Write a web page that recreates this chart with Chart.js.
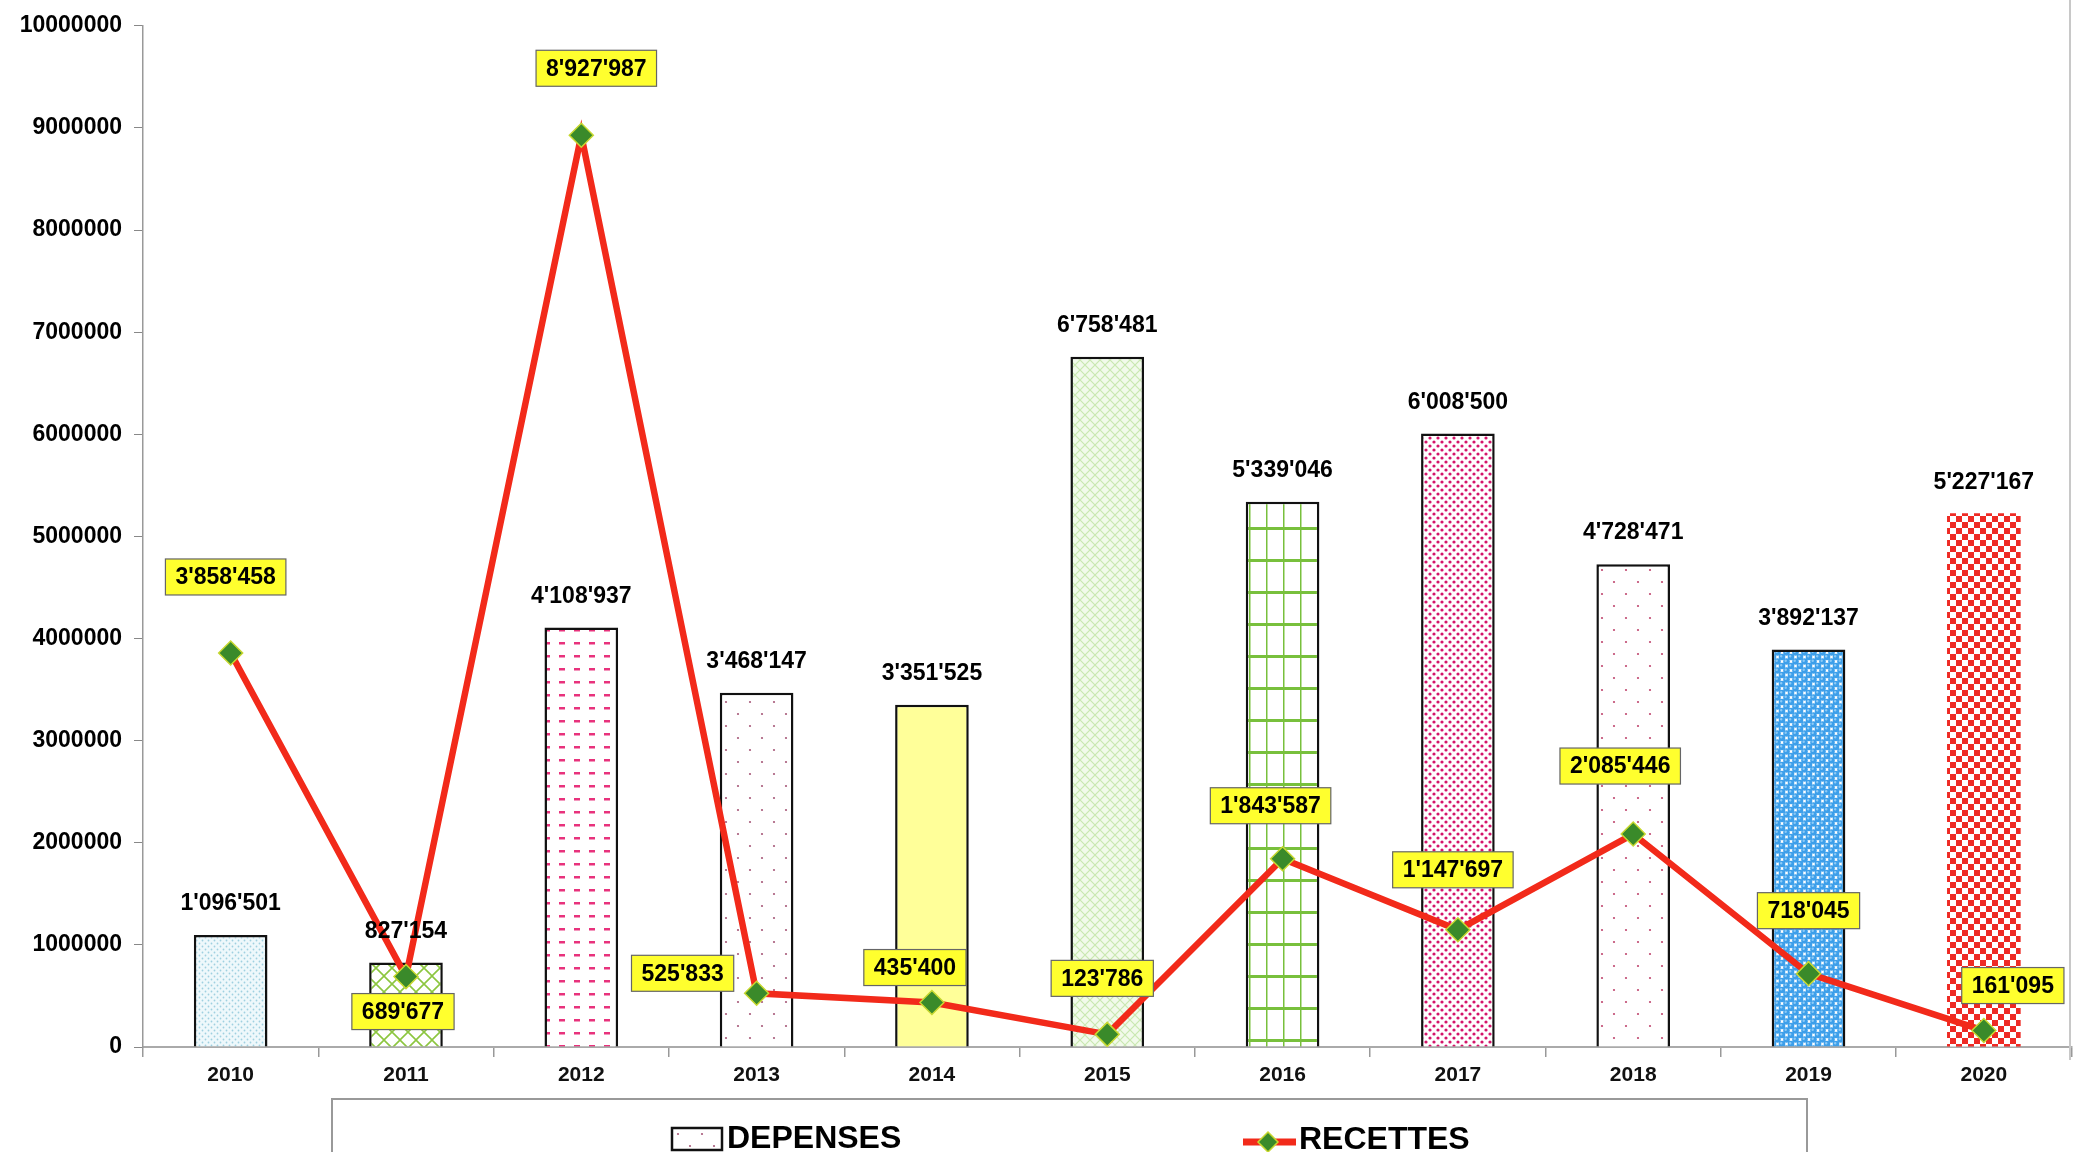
<!DOCTYPE html>
<html>
<head>
<meta charset="utf-8">
<title>Dépenses et recettes 2010-2020</title>
<script src="https://cdn.jsdelivr.net/npm/chart.js@4.4.1/dist/chart.umd.min.js"></script>
<style>
  html, body { margin: 0; padding: 0; background: #fff; }
  #wrap { position: relative; width: 2085px; height: 1152px; }
</style>
</head>
<body>
<div id="wrap"><canvas id="chart"></canvas></div>
<script>
// valeurs
const annees = ['2010', '2011', '2012', '2013', '2014', '2015', '2016', '2017', '2018', '2019', '2020'];
const depenses = [1096501, 827154, 4108937, 3468147, 3351525, 6758481, 5339046, 6008500, 4728471, 3892137, 5227167];
const recettes = [3858458, 689677, 8927987, 525833, 435400, 123786, 1843587, 1147697, 2085446, 718045, 161095];
const yTicks = [0, 1000000, 2000000, 3000000, 4000000, 5000000, 6000000, 7000000, 8000000, 9000000, 10000000];

const FONT = "'Liberation Sans', Arial, sans-serif";

// separateur de milliers avec apostrophe
function fmt(v) {
    return String(v).replace(/\B(?=(\d{3})+(?!\d))/g, "'");
}

// petites trames pour les barres
function trame(w, h, draw) {
    const c = document.createElement('canvas');
    c.width = w; c.height = h;
    const g = c.getContext('2d');
    draw(g, w, h);
    return g.createPattern(c, 'repeat');
}
function points(color, bg, step, r) {
    return trame(step * 2, step * 2, function (g, w, h) {
        g.fillStyle = bg; g.fillRect(0, 0, w, h);
        g.fillStyle = color;
        g.beginPath(); g.arc(step / 2, step / 2, r, 0, Math.PI * 2); g.fill();
        g.beginPath(); g.arc(step * 1.5, step * 1.5, r, 0, Math.PI * 2); g.fill();
    });
}
function treillis(color, bg, s, lw) {
    return trame(s, s, function (g, w, h) {
        g.fillStyle = bg; g.fillRect(0, 0, w, h);
        g.strokeStyle = color; g.lineWidth = lw;
        g.beginPath();
        g.moveTo(0, 0); g.lineTo(w, h);
        g.moveTo(w, 0); g.lineTo(0, h);
        g.stroke();
    });
}

const fonds = [
    points('#9fd0e0', '#eef8fb', 3, 0.9),
    treillis('#8cc63f', '#ffffff', 16, 1.6),
    trame(15, 13, function (g, w, h) {
        g.fillStyle = '#fff'; g.fillRect(0, 0, w, h);
        g.fillStyle = '#e8327c'; g.fillRect(4, 5, 6, 2.5);
    }),
    points('#a85a7a', '#ffffff', 12, 1.1),
    '#ffff99',
    treillis('#c9e8b0', '#f2faeb', 10, 1.2),
    trame(17, 32, function (g, w, h) {
        g.fillStyle = '#fff'; g.fillRect(0, 0, w, h);
        g.fillStyle = '#78c03c';
        g.fillRect(8, 0, 1.5, h);
        g.fillRect(0, 15, w, 3);
    }),
    points('#d4146a', '#ffffff', 4, 1.6),
    points('#c04870', '#ffffff', 12, 1.1),
    trame(9, 9, function (g, w, h) {
        g.fillStyle = '#fff'; g.fillRect(0, 0, w, h);
        [[0, 0], [9, 0], [0, 9], [9, 9], [4.5, 4.5]].forEach(function (p) {
            g.fillStyle = '#3d9fea';
            g.beginPath(); g.arc(p[0], p[1], 3.3, 0, Math.PI * 2); g.fill();
            g.fillStyle = '#8ccaf6';
            g.beginPath(); g.arc(p[0] - 0.8, p[1] - 0.8, 1.2, 0, Math.PI * 2); g.fill();
        });
    }),
    trame(12, 12, function (g, w, h) {
        g.fillStyle = '#fff'; g.fillRect(0, 0, w, h);
        g.fillStyle = '#ee2a24';
        g.fillRect(0, 0, 6, 6); g.fillRect(6, 6, 6, 6);
    })
];
const bordures = annees.map(function (a, i) { return i === 10 ? 0 : 2.5; });

// decalage des etiquettes jaunes par rapport aux points
const decalages = [[-5, -76], [-3, 35], [15, -67], [-74, -20], [-17, -35], [-5, -56], [-12, -53], [-5, -60], [-13, -68], [0, -63], [29, -45]];

const etiquettes = {
    id: 'etiquettes',
    afterDatasetsDraw(chart) {
        const ctx = chart.ctx;
        ctx.save();
        ctx.textAlign = 'center';
        ctx.textBaseline = 'middle';
        ctx.font = 'bold 23px ' + FONT;
        ctx.fillStyle = '#000';
        chart.getDatasetMeta(1).data.forEach(function (bar, i) {
            ctx.fillText(fmt(depenses[i]), bar.x, bar.y - 31);
        });
        chart.getDatasetMeta(0).data.forEach(function (pt, i) {
            const txt = fmt(recettes[i]);
            const w = ctx.measureText(txt).width + 20, h = 36;
            const cx = pt.x + decalages[i][0], cy = pt.y + decalages[i][1];
            ctx.fillStyle = '#ffff2e';
            ctx.fillRect(cx - w / 2, cy - h / 2, w, h);
            ctx.strokeStyle = '#666';
            ctx.lineWidth = 1.2;
            ctx.strokeRect(cx - w / 2, cy - h / 2, w, h);
            ctx.fillStyle = '#000';
            ctx.fillText(txt, cx, cy + 1);
        });
        ctx.restore();
    },
    afterDraw(chart) {
        const ctx = chart.ctx;
        ctx.save();
        // trait a droite
        ctx.strokeStyle = '#c8c8c8';
        ctx.lineWidth = 2;
        ctx.beginPath(); ctx.moveTo(2070, 0); ctx.lineTo(2070, 1060); ctx.stroke();
        // cadre de la legende
        ctx.strokeStyle = '#999';
        ctx.lineWidth = 2;
        ctx.strokeRect(332, 1099, 1475, 80);
        // DEPENSES
        ctx.fillStyle = fonds[3];
        ctx.fillRect(672, 1128, 50, 22);
        ctx.strokeStyle = '#111'; ctx.lineWidth = 2.5;
        ctx.strokeRect(672, 1128, 50, 22);
        ctx.fillStyle = '#000';
        ctx.font = 'bold 32px ' + FONT;
        ctx.textBaseline = 'middle';
        ctx.textAlign = 'left';
        ctx.fillText('DEPENSES', 727, 1139);
        // RECETTES
        ctx.strokeStyle = '#f22a1a'; ctx.lineWidth = 7;
        ctx.beginPath(); ctx.moveTo(1243, 1142); ctx.lineTo(1296, 1142); ctx.stroke();
        ctx.fillStyle = '#3a8a2a'; ctx.strokeStyle = '#c8d830'; ctx.lineWidth = 1.5;
        ctx.beginPath();
        ctx.moveTo(1268, 1132); ctx.lineTo(1278, 1142); ctx.lineTo(1268, 1152); ctx.lineTo(1258, 1142);
        ctx.closePath(); ctx.fill(); ctx.stroke();
        ctx.fillStyle = '#000';
        ctx.fillText('RECETTES', 1299, 1140);
        ctx.restore();
    }
};

new Chart(document.getElementById('chart'), {
    type: 'bar',
    data: {
        labels: annees,
        datasets: [{
            type: 'line',
            label: 'RECETTES',
            data: recettes,
            order: 0,
            borderColor: '#f22a1a',
            borderWidth: 6.5,
            pointStyle: 'rectRot',
            pointRadius: 12,
            pointBackgroundColor: '#3a8a2a',
            pointBorderColor: '#c8d830',
            pointBorderWidth: 1.5,
            tension: 0
        }, {
            label: 'DEPENSES',
            data: depenses,
            order: 1,
            backgroundColor: fonds,
            borderColor: '#111',
            borderWidth: bordures,
            barPercentage: 0.42,
            categoryPercentage: 1
        }]
    },
    options: {
        responsive: true,
        maintainAspectRatio: false,
        animation: false,
        layout: { padding: { top: 16, right: 7, bottom: 53, left: 0 } },
        plugins: {
            legend: { display: false },
            tooltip: { enabled: false }
        },
        scales: {
            x: {
                offset: true,
                grid: { offset: true, drawOnChartArea: false, tickLength: 10, color: '#999', lineWidth: 1.5 },
                border: { color: '#aaa', width: 2 },
                ticks: { color: '#111', font: { family: FONT, size: 21, weight: 'bold' }, padding: 6 },
                afterFit(scale) { scale.height = 52; }
            },
            y: {
                min: 0,
                max: 10000000,
                afterBuildTicks(scale) { scale.ticks = yTicks.map(function (v) { return { value: v }; }); },
                grid: { drawOnChartArea: false, tickLength: 9, color: '#888' },
                border: { color: '#999', width: 1.5 },
                ticks: {
                    color: '#000',
                    padding: 12,
                    font: { family: FONT, size: 23, weight: 'bold' },
                    callback: function (v) { return String(v); }
                },
                afterFit(scale) { scale.width = 143; }
            }
        }
    },
    plugins: [etiquettes]
});
</script>
</body>
</html>
